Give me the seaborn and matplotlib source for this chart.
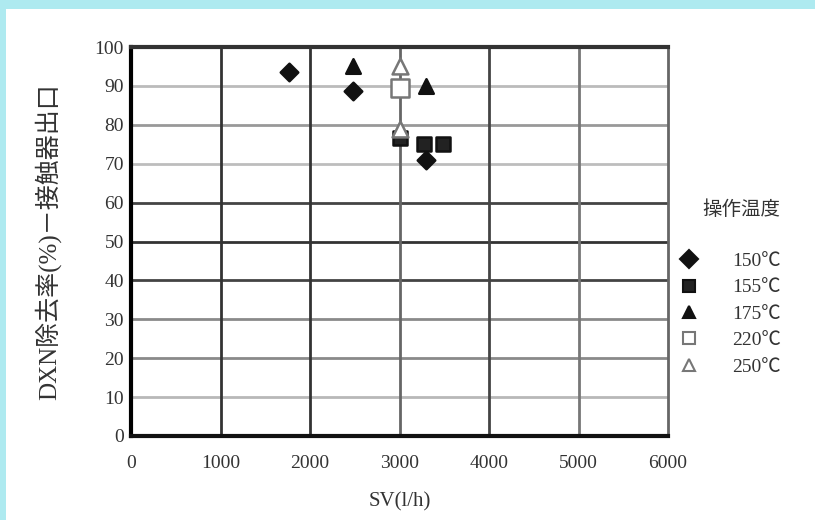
import numpy as np
import pandas as pd
import matplotlib
matplotlib.use("Agg")
import matplotlib.pyplot as plt
from matplotlib.patches import Rectangle
from matplotlib.lines import Line2D
import seaborn as sns

# operating temperature groups and measured points (SV in 1/h, removal rate in %)
temp_labels = ["150℃", "155℃", "175℃", "220℃", "250℃"]
sv_150 = [1770, 2480, 3300]
dxn_150 = [93.5, 88.7, 71.0]
sv_155 = [3000, 3270, 3490]
dxn_155 = [76.5, 75.0, 75.0]
sv_175 = [2480, 3300]
dxn_175 = [95.0, 90.0]
sv_220 = [3000]
dxn_220 = [89.5]
sv_250 = [3000, 3000]
dxn_250 = [95.0, 79.0]

x_ticks = [0, 1000, 2000, 3000, 4000, 5000, 6000]
y_ticks = [0, 10, 20, 30, 40, 50, 60, 70, 80, 90, 100]

sns.set_theme(style="white")
plt.rcParams["font.family"] = ["Liberation Serif", "Noto Sans CJK JP", "DejaVu Sans"]

frames = []
for lab, xs, ys in zip(temp_labels,
                       [sv_150, sv_155, sv_175, sv_220, sv_250],
                       [dxn_150, dxn_155, dxn_175, dxn_220, dxn_250]):
    frames.append(pd.DataFrame({"SV": xs, "DXN": ys, "temp": lab}))
df = pd.concat(frames, ignore_index=True)

# marker styles per temperature (filled / open)
styles = {
    "150℃": dict(marker="D", s=80, color="#111111", edgecolor="#111111"),
    "155℃": dict(marker="s", s=110, color="#222222", edgecolor="#111111"),
    "175℃": dict(marker="^", s=110, color="#111111", edgecolor="#111111"),
    "220℃": dict(marker="s", s=150, color="white", edgecolor="#777777"),
    "250℃": dict(marker="^", s=130, color="white", edgecolor="#777777"),
}

fig = plt.figure(figsize=(8.15, 5.2), dpi=100)
fig.patch.set_facecolor("white")
# cyan frame on top and left edges
fig.add_artist(Rectangle((0, 1 - 9 / 520), 1, 9 / 520, transform=fig.transFigure,
                         facecolor="#aeeaf0", edgecolor="none", zorder=0))
fig.add_artist(Rectangle((0, 0), 6 / 815, 1, transform=fig.transFigure,
                         facecolor="#aeeaf0", edgecolor="none", zorder=0))

ax = fig.add_axes([131 / 815, 1 - 436 / 520, (668 - 131) / 815, (436 - 47) / 520])

# grid lines with uneven scan-like greys
hgrid_colors = {10: "#b8b8b8", 20: "#8a8a8a", 30: "#8a8a8a", 40: "#444444", 50: "#333333",
                60: "#444444", 70: "#bdbdbd", 80: "#999999", 90: "#bbbbbb"}
for yv, c in hgrid_colors.items():
    ax.axhline(yv, color=c, lw=2, zorder=1)
vgrid_colors = {1000: "#333333", 2000: "#333333", 3000: "#666666", 4000: "#444444", 5000: "#777777"}
for xv, c in vgrid_colors.items():
    ax.axvline(xv, color=c, lw=2, zorder=1)

for lab in temp_labels:
    st = styles[lab]
    sns.scatterplot(data=df[df["temp"] == lab], x="SV", y="DXN", ax=ax,
                    marker=st["marker"], s=st["s"], color=st["color"],
                    edgecolor=st["edgecolor"], linewidth=1.8, zorder=3, legend=False)

ax.set_xlim(0, 6000)
ax.set_ylim(0, 100)
ax.set_xticks(x_ticks)
ax.set_yticks(y_ticks)
ax.set_xticklabels([str(v) for v in x_ticks])
ax.set_yticklabels([str(v) for v in y_ticks])
ax.tick_params(axis="both", length=0, labelsize=14, labelcolor="#333333")
ax.tick_params(axis="x", pad=14)
ax.tick_params(axis="y", pad=5)

for side, c, w in [("left", "#000000", 3), ("bottom", "#111111", 3),
                   ("top", "#333333", 3), ("right", "#666666", 2)]:
    ax.spines[side].set_color(c)
    ax.spines[side].set_linewidth(w)
    ax.spines[side].set_visible(True)

ax.set_xlabel("SV(l/h)", fontsize=15, color="#333333", labelpad=14)
ax.set_ylabel("DXN除去率(%)－接触器出口", fontsize=18, color="#333333", labelpad=24)

handles = []
for lab in temp_labels:
    st = styles[lab]
    handles.append(Line2D([], [], linestyle="none", marker=st["marker"], markersize=9,
                          markerfacecolor=st["color"], markeredgecolor=st["edgecolor"],
                          markeredgewidth=1.5, label=lab))
leg = fig.legend(handles=handles, title="操作温度", loc="upper left",
                 bbox_to_anchor=(0.80, 0.648), frameon=False, fontsize=14,
                 title_fontsize=14, handletextpad=1.2, labelspacing=0.45,
                 labelcolor="#333333", alignment="right")
leg.get_title().set_color("#333333")
leg._legend_box.sep = 24

fig.savefig("out.png", dpi=100)
